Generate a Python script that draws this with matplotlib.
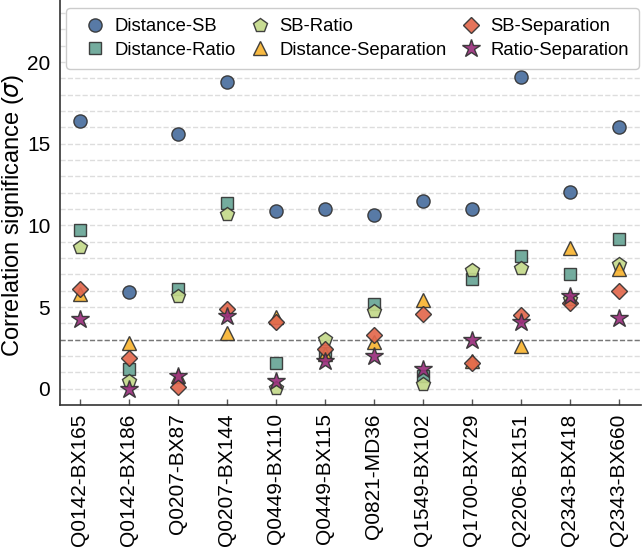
import matplotlib
matplotlib.use("Agg")
import matplotlib.pyplot as plt
import numpy as np

plt.rcParams['font.family'] = ['Liberation Sans', 'DejaVu Sans']

fields = ["Q0142-BX165", "Q0142-BX186", "Q0207-BX87", "Q0207-BX144", "Q0449-BX110",
          "Q0449-BX115", "Q0821-MD36", "Q1549-BX102", "Q1700-BX729", "Q2206-BX151",
          "Q2343-BX418", "Q2343-BX660"]

distance_sb = [16.4, 5.9, 15.6, 18.8, 10.9, 11.0, 10.65, 11.5, 11.0, 19.1, 12.05, 16.05]
distance_ratio = [9.7, 1.2, 6.1, 11.35, 1.55, 2.2, 5.2, 0.75, 6.7, 8.15, 7.0, 9.15]
sb_ratio = [8.65, 0.45, 5.65, 10.7, 0.05, 3.05, 4.75, 0.3, 7.25, 7.4, 5.5, 7.65]
distance_sep = [5.8, 2.8, 0.8, 3.4, 4.4, 2.1, 2.85, 5.4, 1.7, 2.6, 8.6, 7.35]
sb_sep = [6.1, 1.9, 0.1, 4.9, 4.1, 2.45, 3.3, 4.6, 1.6, 4.5, 5.25, 6.0]
ratio_sep = [4.25, 0.0, 0.75, 4.45, 0.45, 1.7, 2.0, 1.2, 2.95, 4.1, 5.7, 4.3]

series = [
    ("Distance-SB", distance_sb, "o", "#4a6f9f", 9.5),
    ("Distance-Ratio", distance_ratio, "s", "#68a596", 8.5),
    ("SB-Ratio", sb_ratio, "p", "#c4d98a", 10.5),
    ("Distance-Separation", distance_sep, "^", "#f8b432", 10.5),
    ("SB-Separation", sb_sep, "D", "#e2684d", 8.5),
    ("Ratio-Separation", ratio_sep, "*", "#9a2f7d", 13.5),
]

threshold = 3

fig = plt.figure(figsize=(6.42, 5.51), dpi=100)
ax = fig.add_axes([60/642, (551-405)/551, 1 - 60/642 - 0.002, 405/551])

x = np.arange(len(fields))
for label, vals, m, c, ms in series:
    ax.plot(x, vals, linestyle='none', marker=m, color=c, markersize=ms,
            markeredgecolor='#333333', markeredgewidth=1.0, alpha=0.92, label=label, zorder=3)

for yv in range(0, 24):
    ax.axhline(yv, color='#dddddd', linestyle='--', linewidth=1.0, zorder=0)
ax.axhline(threshold, color='#777777', linestyle='--', linewidth=1.0, zorder=1)

ax.set_xlim(-0.4, 11.45)
ax.set_ylim(-1, 23.8)
ax.set_xticks(x)
ax.set_xticklabels(fields, rotation=90, fontsize=15)
ax.set_yticks([0, 5, 10, 15, 20])
ax.tick_params(axis='y', labelsize=15, length=0, pad=7)
ax.tick_params(axis='x', direction='in', length=4, color='#555555', width=1, pad=6)
ax.set_ylabel(r"Correlation significance ($\sigma$)", fontsize=17)
ax.yaxis.set_label_coords(-0.058, 0.469)

for s in ['top', 'right']:
    ax.spines[s].set_visible(False)
for s in ['left', 'bottom']:
    ax.spines[s].set_color('#333333')
    ax.spines[s].set_linewidth(1.2)

leg = ax.legend(ncol=3, loc='upper center', bbox_to_anchor=(0.504, 0.98), borderaxespad=0,
                fontsize=13.3, frameon=True, fancybox=True, edgecolor='#cccccc', framealpha=1,
                handletextpad=0.05, columnspacing=0.32, borderpad=0.55, labelspacing=0.36,
                handlelength=2.0)

fig.savefig("out.png", dpi=100)
